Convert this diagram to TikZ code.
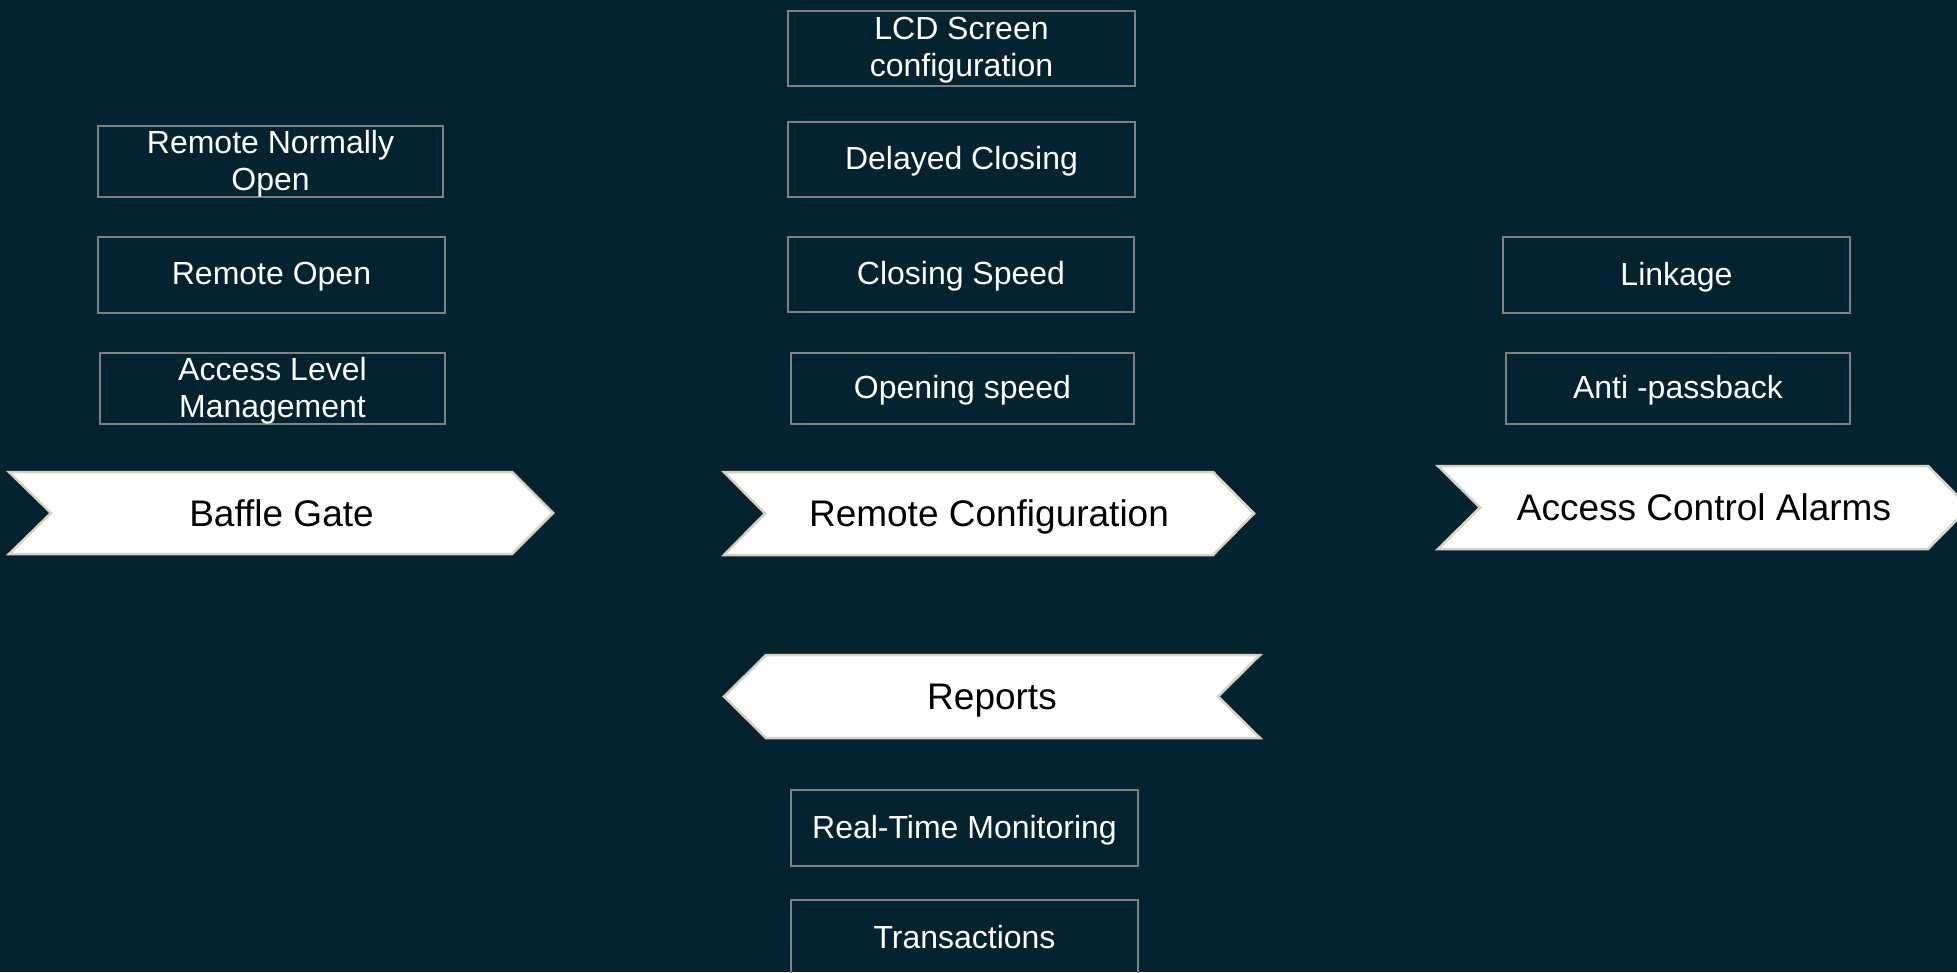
\documentclass[tikz,border=0pt]{standalone}
\usepackage{fontspec}
\setmainfont{Liberation Sans}
\definecolor{bg}{RGB}{3,35,48}
\definecolor{boxline}{RGB}{128,128,128}
\definecolor{chevline}{RGB}{214,210,196}
\begin{document}
\begin{tikzpicture}[x=1pt,y=-1pt,
  item/.style={draw=boxline,line width=2pt,text=white,inner sep=0pt,align=center,
    font=\fontsize{32}{37}\selectfont,text depth=3pt,anchor=north west},
  chev/.style={fill=white,draw=chevline,line width=2.5pt,line join=miter},
  chevtext/.style={text=black,font=\fontsize{37}{44}\selectfont,inner sep=0pt,text depth=0pt}]
\useasboundingbox (0,0) rectangle (1957,972);
\clip (0,0) rectangle (1957,972);
\fill[bg] (0,0) rectangle (1957,972);

% left column
\node[item,minimum width=345pt,minimum height=71pt] (rno) at (97,125) {Remote Normally\\Open};
\node[item,minimum width=347pt,minimum height=76pt] (ro) at (97,236) {Remote Open};
\node[item,minimum width=345pt,minimum height=71pt] (alm) at (99,352) {Access Level\\Management};

% middle column
\node[item,minimum width=347pt,minimum height=75pt] (lcd) at (787,10) {LCD Screen\\configuration};
\node[item,minimum width=347pt,minimum height=75pt] (dc) at (787,121) {Delayed Closing};
\node[item,minimum width=346pt,minimum height=75pt] (cs) at (787,236) {Closing Speed};
\node[item,minimum width=343pt,minimum height=71pt] (os) at (790,352) {Opening speed};

% right column
\node[item,minimum width=347pt,minimum height=76pt] (lk) at (1502,236) {Linkage};
\node[item,minimum width=344pt,minimum height=71pt] (ap) at (1505,352) {Anti -passback};

% bottom
\node[item,minimum width=347pt,minimum height=76pt] (rtm) at (790,789) {Real-Time Monitoring};
\node[item,minimum width=347pt,minimum height=76pt] (tr) at (790,899) {Transactions};

% chevrons
\path[chev] (9,472) -- (512,472) -- (553,513) -- (512,554) -- (9,554) -- (51,513) -- cycle;
\node[chevtext] (bg1) at (281.5,513) {Baffle Gate};

\path[chev] (724,472) -- (1213,472) -- (1254,513.5) -- (1213,555) -- (724,555) -- (765,513.5) -- cycle;
\node[chevtext] (rc) at (989,513.5) {Remote Configuration};

\path[chev] (1438,466) -- (1928,466) -- (1969,507.5) -- (1928,549) -- (1438,549) -- (1480,507.5) -- cycle;
\node[chevtext] (aca) at (1704,507.5) {Access Control Alarms};

\path[chev] (766,655) -- (1260,655) -- (1218,696.5) -- (1260,738) -- (766,738) -- (724,696.5) -- cycle;
\node[chevtext] (rep) at (992,696.5) {Reports};
\end{tikzpicture}
\end{document}
